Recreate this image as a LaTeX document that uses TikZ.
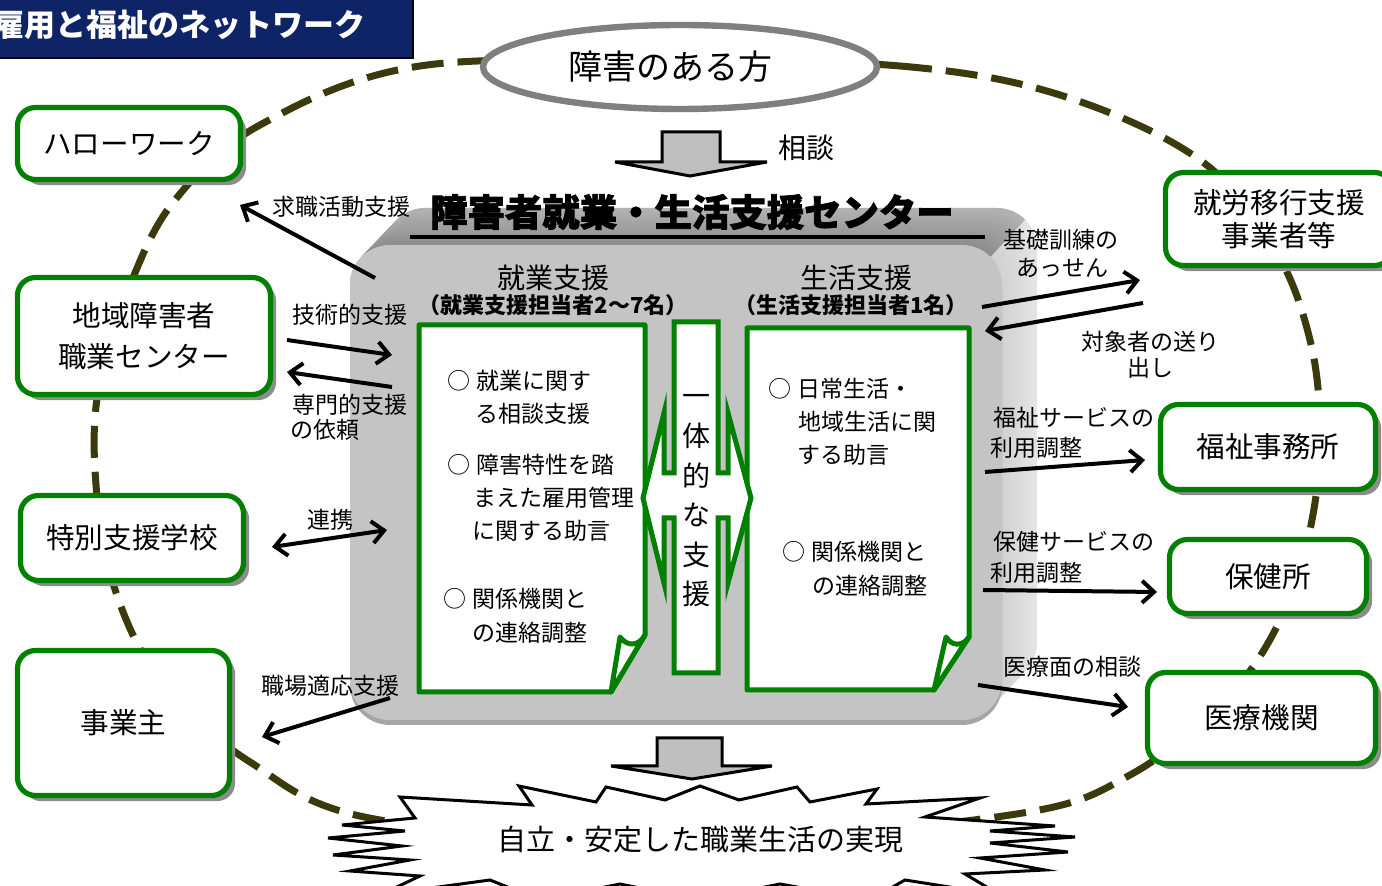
\documentclass[tikz,border=0pt]{standalone}
\usepackage{fontspec}
\setmainfont{Noto Sans CJK JP}
\usetikzlibrary{arrows.meta,shapes.geometric,shadows}
\definecolor{gr}{HTML}{008000}
\definecolor{dsh}{HTML}{3A3A0C}
\definecolor{navy}{HTML}{0E2466}
\definecolor{shd}{HTML}{8C8C8C}
\definecolor{ellgray}{HTML}{7F7F7F}
\newcommand\myo{○\hspace{3pt}}
\tikzset{
 gbox/.style={draw=gr, line width=2.6pt, fill=white, rounded corners=9pt, align=center, inner sep=0pt,
   font=\fontsize{14.3}{20.5}\selectfont,
   drop shadow={shadow xshift=2.8pt, shadow yshift=-2.8pt, fill=shd, opacity=1}},
 lbl/.style={inner sep=0pt, font=\fontsize{11.5}{13}\selectfont},
 doctext/.style={inner sep=0pt, anchor=west, font=\fontsize{11.5}{13}\selectfont},
 docshape/.style={draw=gr, line width=2.5pt, fill=white, line join=round},
 arr/.style={line width=2pt, -{Straight Barb[length=6pt,width=11pt]}},
 darr/.style={line width=2pt, {Straight Barb[length=6pt,width=11pt]}-{Straight Barb[length=6pt,width=11pt]}},
 blockarrow/.style={fill=black!25, draw=black, line width=1.5pt, line join=miter},
}
\begin{document}
\begin{tikzpicture}[x=0.5pt,y=-0.5pt]
\useasboundingbox (0,0) rectangle (1382,886);

% dashed network loop
\draw[dsh, line width=3.5pt, dash pattern=on 16pt off 7pt]
  plot[smooth cycle, tension=0.6] coordinates {(680,62) (900,66) (1060,95) (1200,160) (1275,250) (1310,340) (1320,430) (1312,520) (1285,610) (1230,695) (1130,775) (1010,815) (700,840) (380,820) (250,762) (160,680) (112,580) (95,470) (100,380) (130,285) (175,200) (260,125) (420,66)};

% person ellipse
\node[ellipse, draw=ellgray, line width=3.2pt, fill=white, minimum width=197pt, minimum height=42pt,
  inner sep=0pt, font=\fontsize{17}{20}\selectfont] (person) at (680,67) {\hspace*{-10pt}障害のある方};

% title box
\fill[navy] (-5,-5) rectangle (413,58);
\draw[line width=1pt] (-5,-5) rectangle (413,58);
\node[anchor=east, inner sep=0pt, text=white, font=\fontsize{15.5}{18}\selectfont\bfseries] (title) at (366,25) {雇用と福祉のネットワーク};

% central 3D box
\foreach \i in {20,19,...,0}{
  \pgfmathsetmacro\q{10+8*(20-\i)/20}
  \fill[black!\q, rounded corners=20pt] ([shift={({1.75*\i},{-1.85*\i})}]350,245) rectangle ([shift={({1.75*\i},{-1.85*\i})}]1002,720);
}
\begin{scope}
  \clip (330,190) -- (1053,190) -- (949,300) -- (330,300) -- cycle;
  \foreach \i in {20,19,...,0}{
    \pgfmathsetmacro\p{30+15*(20-\i)/20}
    \fill[black!\p, rounded corners=20pt] ([shift={({1.75*\i},{-1.85*\i})}]350,245) rectangle ([shift={({1.75*\i},{-1.85*\i})}]1002,720);
  }
\end{scope}
\fill[black!35, rounded corners=20pt] (350,249) rectangle (1002,725);
\fill[black!23, rounded corners=20pt] (350,245) rectangle (1002,720);

\node[inner sep=0pt, font=\fontsize{18.7}{20}\selectfont\bfseries\addfontfeatures{FakeBold=2}] (ctitle) at (692,212) {障害者就業・生活支援センター};
\draw[line width=1.6pt] (410,237) -- (985,237);

\node[inner sep=0pt, font=\fontsize{14}{16}\selectfont] (h1) at (553,278) {就業支援};
\node[inner sep=0pt, font=\fontsize{11}{13}\selectfont\bfseries] (h1s) at (553,305) {（就業支援担当者2～7名）};
\node[inner sep=0pt, font=\fontsize{14}{16}\selectfont] (h2) at (856,278) {生活支援};
\node[inner sep=0pt, font=\fontsize{11}{13}\selectfont\bfseries] (h2s) at (851,305) {（生活支援担当者1名）};

% documents
\draw[docshape] (419,325) -- (645,325) -- (645,635) -- (611,692) -- (419,692) -- cycle;
\draw[docshape] (620,637) .. controls (628,648) and (640,645) .. (645,635) -- (611,692) -- cycle;
\draw[docshape] (747,328) -- (969,328) -- (969,637) -- (934,690) -- (747,690) -- cycle;
\draw[docshape] (946,637) .. controls (953,648) and (964,645) .. (969,637) -- (934,690) -- cycle;

\node[doctext] (l1) at (447,381) {\myo 就業に関す};
\node[doctext] (l2) at (475,414) {る相談支援};
\node[doctext] (l3) at (447,465) {\myo 障害特性を踏};
\node[doctext] (l4) at (473,498) {まえた雇用管理};
\node[doctext] (l5) at (472,531) {に関する助言};
\node[doctext] (l6) at (443,599) {\myo 関係機関と};
\node[doctext] (l7) at (472,633) {の連絡調整};

\node[doctext] (r1) at (768,389) {\myo 日常生活・};
\node[doctext] (r2) at (798,422) {地域生活に関};
\node[doctext] (r3) at (797,455) {する助言};
\node[doctext] (r4) at (782,552) {\myo 関係機関と};
\node[doctext] (r5) at (812,586) {の連絡調整};

% central bar with double arrow
\draw[docshape, line join=miter] (674,322) -- (674,473) -- (664,473) -- (664,413) -- (643,498) -- (664,583) -- (664,518) -- (674,518) -- (674,673) -- (718,673) -- (718,518) -- (728,518) -- (728,583) -- (751,498) -- (728,413) -- (728,473) -- (718,473) -- (718,322) -- cycle;
\node[inner sep=0pt, align=center, font=\fontsize{14}{19.8}\selectfont] (bar) at (696,501) {一\\体\\的\\な\\支\\援};

% outer boxes
\node[gbox, minimum width=111.5pt, minimum height=36pt] (hw) at (129,143.5) {ハローワーク};
\node[gbox, minimum width=126.5pt, minimum height=58.5pt] (chiiki) at (144,336) {地域障害者\\職業センター};
\node[gbox, minimum width=111.5pt, minimum height=42.5pt] (school) at (132,538) {特別支援学校};
\node[gbox, minimum width=106pt, minimum height=72.5pt] (emp) at (123.5,723) {事業主};
\node[gbox, minimum width=113.5pt, minimum height=46.5pt, font=\fontsize{14.3}{16.5}\selectfont] (ikou) at (1279,219) {就労移行支援\\事業者等};
\node[gbox, minimum width=107.5pt, minimum height=42.5pt] (fukushi) at (1268,447) {福祉事務所};
\node[gbox, minimum width=98.5pt, minimum height=37pt] (hoken) at (1268,576.5) {保健所};
\node[gbox, minimum width=114pt, minimum height=45.5pt] (iryo) at (1261.5,718) {医療機関};

% arrow end points
\coordinate (a1s) at (375,278); \coordinate (a1e) at (240,205);
\coordinate (a2s) at (287,340); \coordinate (a2e) at (392,355);
\coordinate (a3s) at (392,387); \coordinate (a3e) at (287,372);
\coordinate (a4s) at (272,547); \coordinate (a4e) at (387,530);
\coordinate (a5s) at (390,698); \coordinate (a5e) at (262,737);
\coordinate (a6s) at (982,307); \coordinate (a6e) at (1140,280);
\coordinate (a7s) at (1143,303); \coordinate (a7e) at (985,331);
\coordinate (a8s) at (985,472); \coordinate (a8e) at (1145,460);
\coordinate (a9s) at (983,590); \coordinate (a9e) at (1157,592);
\coordinate (a10s) at (978,685); \coordinate (a10e) at (1128,707);

\draw[arr] (a1s) -- (a1e);
\draw[arr] (a2s) -- (a2e);
\draw[arr] (a3s) -- (a3e);
\draw[darr] (a4s) -- (a4e);
\draw[arr] (a5s) -- (a5e);
\draw[arr] (a6s) -- (a6e);
\draw[arr] (a7s) -- (a7e);
\draw[arr] (a8s) -- (a8e);
\draw[arr] (a9s) -- (a9e);
\draw[arr] (a10s) -- (a10e);

% labels
\node[lbl] (t1) at (341,207) {求職活動支援};
\node[lbl] (t2) at (350,315) {技術的支援};
\node[lbl] (t3) at (350,405) {専門的支援};
\node[lbl, anchor=west] (t3b) at (290,430) {の依頼};
\node[lbl] (t4) at (330,520) {連携};
\node[lbl] (t5) at (330,686) {職場適応支援};
\node[lbl] (t6) at (1061,240) {基礎訓練の};
\node[lbl] (t6b) at (1062,268) {あっせん};
\node[lbl] (t7) at (1150,342) {対象者の送り};
\node[lbl] (t7b) at (1150,368) {出し};
\node[lbl, anchor=west] (t8) at (993,418) {福祉サービスの};
\node[lbl, anchor=west] (t8b) at (990,448) {利用調整};
\node[lbl, anchor=west] (t9) at (993,542) {保健サービスの};
\node[lbl, anchor=west] (t9b) at (990,573) {利用調整};
\node[lbl] (t10) at (1072,667) {医療面の相談};

% block arrows
\draw[blockarrow] (662,132) -- (720,132) -- (720,162) -- (767,162) -- (690,176) -- (615,162) -- (662,162) -- cycle;
\node[inner sep=0pt, font=\fontsize{14}{16}\selectfont] (soudan) at (806,148) {相談};
\draw[blockarrow] (657,738) -- (722,738) -- (722,766) -- (772,766) -- (692,779) -- (611,766) -- (657,766) -- cycle;

% starburst
\draw[fill=white, line width=1.5pt, line join=miter]
  (400,797) -- (532,805) -- (519,786) -- (596,802) -- (606,787) -- (665,800) -- (700,786) -- (739,800) -- (797,787) -- (810,802) -- (877,789) -- (866,804) -- (980,798) -- (925,817)
  -- (1055,826) -- (990,831) -- (1075,837) -- (990,843) -- (1068,852) -- (980,858) -- (1045,870) -- (965,874) -- (1000,895)
  -- (905,880) -- (870,900) -- (780,884) -- (700,900) -- (620,884) -- (540,900) -- (490,880)
  -- (380,895) -- (420,876) -- (350,871) -- (410,860) -- (333,855) -- (402,846) -- (328,838) -- (405,831) -- (342,825) -- (415,818) -- cycle;
\node[inner sep=0pt, font=\fontsize{14.5}{16}\selectfont] (goal) at (700,840) {自立・安定した職業生活の実現};
\end{tikzpicture}
\end{document}
